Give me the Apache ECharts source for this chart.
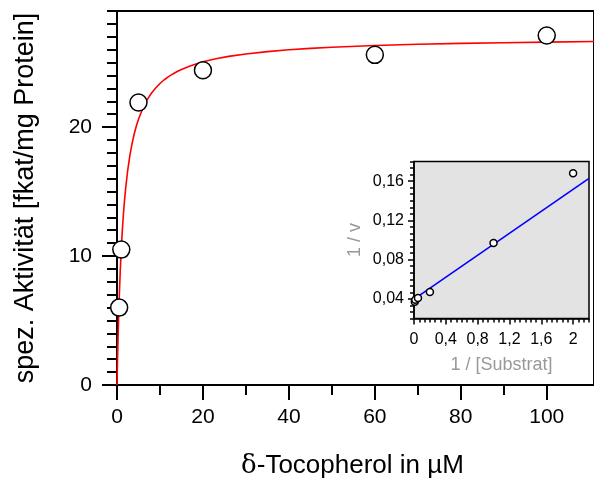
<!DOCTYPE html>
<html>
<head>
<meta charset="utf-8">
<script src="https://cdn.jsdelivr.net/npm/echarts@6/dist/echarts.min.js"></script>
<style>
  html, body { margin: 0; padding: 0; background: #fff; }
  #chart { width: 594px; height: 486px; }
</style>
</head>
<body>
<div id="chart"></div>
<script>
// Measured activity vs. substrate concentration
const substrateConc = [0.5, 1, 5, 20, 60, 100];          // µM δ-tocopherol
const activity = [6.0, 10.5, 21.9, 24.4, 25.6, 27.1];    // fkat/mg protein

// Fitted saturation curve
const fitConc = [0, 0.1, 0.25, 0.5, 0.75, 1, 1.25, 1.5, 1.75, 2, 2.5, 3, 3.5, 4, 4.5, 5, 6, 7, 8, 9, 10, 11, 12, 13, 14, 15, 17, 20, 23, 26, 30, 35, 40, 45, 50, 60, 70, 80, 90, 100, 111];
const fitActivity = [0, 1.64, 3.75, 6.59, 8.8, 10.59, 12.05, 13.28, 14.32, 15.21, 16.67, 17.8, 18.71, 19.46, 20.08, 20.61, 21.46, 22.11, 22.62, 23.03, 23.38, 23.67, 23.91, 24.12, 24.31, 24.47, 24.74, 25.06, 25.3, 25.48, 25.67, 25.85, 25.99, 26.1, 26.19, 26.32, 26.42, 26.49, 26.54, 26.59, 26.63];

// Double-reciprocal (Lineweaver-Burk) inset
const invSubstrate = [0.01, 0.017, 0.05, 0.2, 1, 2];
const invVelocity = [0.037, 0.039, 0.041, 0.047, 0.097, 0.168];
const lbLineX = [0.01, 2.2];
const lbLineY = [0.0402, 0.1628];

// Tick positions
const mainXTicks = [0, 20, 40, 60, 80, 100];
const mainXMinor = [10, 30, 50, 70, 90];
const mainYTicks = [0, 10, 20];
const mainYMinor = [1, 2, 3, 4, 5, 6, 7, 8, 9, 11, 12, 13, 14, 15, 16, 17, 18, 19, 21, 22, 23, 24, 25, 26, 27, 28, 29];
const insetXTicks = [0, 0.4, 0.8, 1.2, 1.6, 2];
const insetYTicks = [0.04, 0.08, 0.12, 0.16];

// six minor divisions between inset major ticks
const insetXMinor = [];
for (let k = 0; k <= 33; k++) insetXMinor.push(k * 0.4 / 6);
const insetYMinor = [];
for (let k = 0; k <= 24; k++) insetYMinor.push(0.02 + k * 0.04 / 6);

const FONT = 'Liberation Sans, Arial, sans-serif';
const pairs = (xs, ys) => xs.map((x, i) => [x, ys[i]]);
const comma = v => String(Math.round(v * 100) / 100).replace('.', ',');

const black = { color: '#000', width: 2 };
const thin = { color: '#000', width: 1.5 };

const chart = echarts.init(document.getElementById('chart'), null, { renderer: 'canvas' });

chart.setOption({
  animation: false,
  backgroundColor: '#fff',
  grid: [
    { left: 117, top: 11, right: -9, bottom: 101, show: true, borderColor: '#000', borderWidth: 2, backgroundColor: 'transparent' },
    { left: 414, top: 161.5, right: 5, bottom: 167.5, show: true, borderColor: '#000', borderWidth: 1.5, backgroundColor: '#e3e3e3' }
  ],
  xAxis: [
    {
      gridIndex: 0, type: 'value', min: 0, max: 111, position: 'bottom',
      axisLine: { show: true, onZero: false, lineStyle: black },
      axisTick: { show: true, length: 15, lineStyle: black, customValues: mainXTicks },
      axisLabel: { customValues: mainXTicks, fontSize: 21, color: '#000', margin: 22, fontFamily: FONT },
      splitLine: { show: false },
      name: '{g|δ}-Tocopherol in µM',
      nameLocation: 'middle', nameGap: 68,
      nameTextStyle: {
        fontSize: 26, color: '#000', fontFamily: FONT, padding: [0, 6, 0, 0],
        rich: { g: { fontFamily: 'DejaVu Serif, Liberation Serif, serif', fontSize: 26, color: '#000' } }
      }
    },
    {
      gridIndex: 0, type: 'value', min: 0, max: 111, position: 'bottom',
      axisLine: { show: false, onZero: false },
      axisTick: { show: true, length: 10, lineStyle: black, customValues: mainXMinor },
      axisLabel: { show: false },
      splitLine: { show: false }
    },
    {
      gridIndex: 1, type: 'value', min: 0, max: 2.2, position: 'bottom',
      axisLine: { show: true, onZero: false, lineStyle: thin },
      axisTick: { show: true, length: 6, lineStyle: thin, customValues: insetXTicks },
      axisLabel: { customValues: insetXTicks, formatter: comma, fontSize: 16, color: '#000', margin: 13, fontFamily: FONT },
      splitLine: { show: false },
      name: '1 / [Substrat]', nameLocation: 'middle', nameGap: 38,
      nameTextStyle: { fontSize: 18, color: '#999', fontFamily: FONT }
    },
    {
      gridIndex: 1, type: 'value', min: 0, max: 2.2, position: 'bottom',
      axisLine: { show: false, onZero: false },
      axisTick: { show: true, length: 4, lineStyle: thin, customValues: insetXMinor },
      axisLabel: { show: false },
      splitLine: { show: false }
    }
  ],
  yAxis: [
    {
      gridIndex: 0, type: 'value', min: 0, max: 29, position: 'left',
      axisLine: { show: true, onZero: false, lineStyle: black },
      axisTick: { show: true, length: 15, lineStyle: black, customValues: mainYTicks },
      axisLabel: { customValues: mainYTicks, fontSize: 21, color: '#000', margin: 25, fontFamily: FONT },
      splitLine: { show: false },
      name: 'spez. Aktivität [fkat/mg Protein]',
      nameLocation: 'middle', nameGap: 78,
      nameTextStyle: { fontSize: 27, color: '#000', fontFamily: FONT }
    },
    {
      gridIndex: 0, type: 'value', min: 0, max: 29, position: 'left',
      axisLine: { show: false, onZero: false },
      axisTick: { show: true, length: 10, lineStyle: black, customValues: mainYMinor },
      axisLabel: { show: false },
      splitLine: { show: false }
    },
    {
      gridIndex: 1, type: 'value', min: 0.02, max: 0.18, position: 'left',
      axisLine: { show: true, onZero: false, lineStyle: thin },
      axisTick: { show: true, length: 6, lineStyle: thin, customValues: insetYTicks },
      axisLabel: { customValues: insetYTicks, formatter: comma, fontSize: 16, color: '#000', margin: 10, fontFamily: FONT },
      splitLine: { show: false },
      name: '1 / v', nameLocation: 'middle', nameGap: 50,
      nameTextStyle: { fontSize: 18, color: '#999', fontFamily: FONT }
    },
    {
      gridIndex: 1, type: 'value', min: 0.02, max: 0.18, position: 'left',
      axisLine: { show: false, onZero: false },
      axisTick: { show: true, length: 4, lineStyle: thin, customValues: insetYMinor },
      axisLabel: { show: false },
      splitLine: { show: false }
    }
  ],
  series: [
    {
      type: 'line', xAxisIndex: 0, yAxisIndex: 0,
      data: pairs(fitConc, fitActivity),
      showSymbol: false, smooth: false, clip: true,
      lineStyle: { color: '#ff0000', width: 1.6, join: 'round' }, z: 2
    },
    {
      type: 'scatter', xAxisIndex: 0, yAxisIndex: 0,
      data: pairs(substrateConc, activity),
      symbol: 'circle', symbolSize: 17,
      itemStyle: { color: '#fff', borderColor: '#000', borderWidth: 1.5, opacity: 1 }, z: 3
    },
    {
      type: 'line', xAxisIndex: 2, yAxisIndex: 2,
      data: pairs(lbLineX, lbLineY),
      showSymbol: false, clip: true,
      lineStyle: { color: '#0000ff', width: 1.6 }, z: 2
    },
    {
      type: 'scatter', xAxisIndex: 2, yAxisIndex: 2,
      data: pairs(invSubstrate, invVelocity),
      symbol: 'circle', symbolSize: 7,
      itemStyle: { color: '#fff', borderColor: '#000', borderWidth: 1.5, opacity: 1 }, z: 3
    }
  ]
});
</script>
</body>
</html>
